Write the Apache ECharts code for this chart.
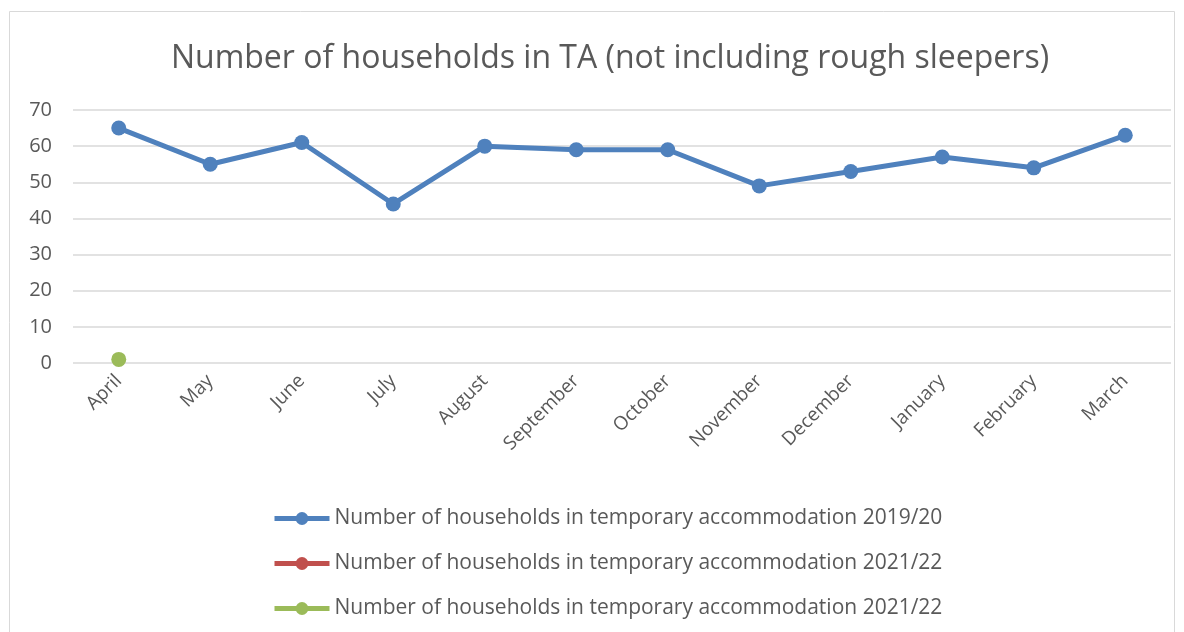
<!DOCTYPE html>
<html>
<head>
<meta charset="utf-8">
<script src="https://cdn.jsdelivr.net/npm/echarts@6/dist/echarts.min.js"></script>
<style>
  html, body { margin: 0; padding: 0; background: #fff; }
  #chart { width: 1184px; height: 632px; }
</style>
</head>
<body>
<div id="chart"></div>
<script>
var months = ['April', 'May', 'June', 'July', 'August', 'September', 'October',
              'November', 'December', 'January', 'February', 'March'];
var seriesNames = ['Number of households in temporary accommodation 2019/20',
                   'Number of households in temporary accommodation 2021/22',
                   'Number of households in temporary accommodation 2021/22 '];
var ta1920 = [65, 55, 61, 44, 60, 59, 59, 49, 53, 57, 54, 63];
var ta2122a = [null, null, null, null, null, null, null, null, null, null, null, null];
var ta2122b = [1, null, null, null, null, null, null, null, null, null, null, null];
var colors = ['#4f81bd', '#c0504d', '#9bbb59'];

var myChart = echarts.init(document.getElementById('chart'));

function lineSeries(name, data, color) {
	return {
		name: name,
		type: 'line',
		data: data,
		symbol: 'circle',
		symbolSize: 15,
		showAllSymbol: true,
		connectNulls: false,
		itemStyle: { color: color },
		lineStyle: { color: color, width: 5 },
		emphasis: { disabled: true }
	};
}

var option = {
	animation: false,
	textStyle: { fontFamily: 'Open Sans' },
	title: {
		text: 'Number of households in TA (not including rough sleepers)',
		left: 605,
		textAlign: 'center',
		top: 38,
		textStyle: {
			color: '#595959',
			fontSize: 32,
			fontWeight: 'normal'
		}
	},
	graphic: [{
		type: 'rect',
		shape: { x: 9.5, y: 11.5, width: 1165, height: 640 },
		style: { fill: null, stroke: '#d9d9d9', lineWidth: 1 },
		silent: true
	}],
	grid: {
		left: 73,
		right: 13,
		top: 110,
		bottom: 632 - 363,
		containLabel: false
	},
	legend: {
		orient: 'vertical',
		left: 267,
		top: 503,
		itemWidth: 55,
		itemHeight: 16,
		itemGap: 24,
		data: seriesNames,
		lineStyle: { width: 5 },
		textStyle: {
			color: '#595959',
			fontSize: 21
		},
		formatter: function (n) { return n.trim(); }
	},
	xAxis: {
		type: 'category',
		data: months,
		boundaryGap: true,
		axisLine: { show: false },
		axisTick: { show: false },
		axisLabel: {
			rotate: 45,
			interval: 0,
			color: '#595959',
			fontSize: 19,
			margin: 15
		}
	},
	yAxis: {
		type: 'value',
		min: 0,
		max: 70,
		interval: 10,
		axisLine: { show: false },
		axisTick: { show: false },
		axisLabel: {
			color: '#595959',
			fontSize: 20,
			margin: 21
		},
		splitLine: { lineStyle: { color: '#d9d9d9', width: 1.5 } }
	},
	series: [
		lineSeries(seriesNames[0], ta1920, colors[0]),
		lineSeries(seriesNames[1], ta2122a, colors[1]),
		lineSeries(seriesNames[2], ta2122b, colors[2])
	]
};

myChart.setOption(option);
</script>
</body>
</html>
